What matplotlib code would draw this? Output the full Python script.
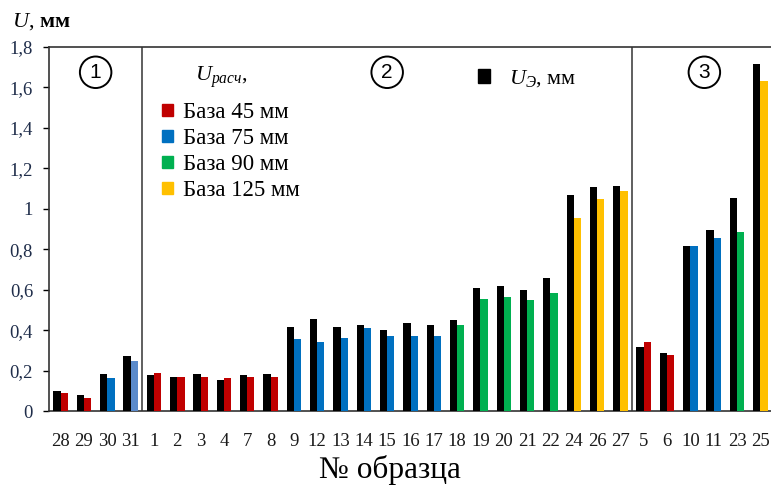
import matplotlib
matplotlib.use("Agg")
import matplotlib.pyplot as plt
from matplotlib.patches import Patch

plt.rcParams['font.family'] = ['Liberation Serif', 'DejaVu Serif']
plt.rcParams['mathtext.fontset'] = 'custom'
plt.rcParams['mathtext.rm'] = 'Liberation Serif'
plt.rcParams['mathtext.it'] = 'Liberation Serif:italic'
plt.rcParams['mathtext.bf'] = 'Liberation Serif:bold'

# sample numbers in plotting order, grouped as 1 | 2 | 3
samples = ['28', '29', '30', '31', '1', '2', '3', '4', '7', '8', '9', '12', '13', '14',
           '15', '16', '17', '18', '19', '20', '21', '22', '24', '26', '27',
           '5', '6', '10', '11', '23', '25']
# measured deflection U_э, mm
u_exp = [0.100, 0.078, 0.185, 0.270, 0.177, 0.170, 0.185, 0.154, 0.177, 0.183,
         0.415, 0.455, 0.415, 0.426, 0.400, 0.433, 0.425, 0.448, 0.608, 0.616,
         0.600, 0.656, 1.069, 1.107, 1.115,
         0.316, 0.286, 0.816, 0.894, 1.053, 1.715]
# calculated deflection U_расч, mm
u_calc = [0.088, 0.063, 0.162, 0.246, 0.187, 0.170, 0.170, 0.162, 0.170, 0.170,
          0.355, 0.340, 0.363, 0.408, 0.372, 0.372, 0.372, 0.425, 0.555, 0.564,
          0.549, 0.585, 0.955, 1.048, 1.086,
          0.340, 0.279, 0.816, 0.854, 0.886, 1.633]
# measuring base, mm
base = [45, 45, 75, 75, 45, 45, 45, 45, 45, 45,
        75, 75, 75, 75, 75, 75, 75, 90, 90, 90,
        90, 90, 125, 125, 125,
        45, 45, 75, 75, 90, 125]

base_colors = {45: '#c00000', 75: '#0070c0', 90: '#00b050', 125: '#ffc000'}
color_override = {'31': '#5a8acb'}
group_edges = [3.5, 24.5]
group_marks = [('1', 1.5), ('2', 14.0), ('3', 27.6)]

fig = plt.figure(figsize=(7.71, 4.86), dpi=100)
ax = fig.add_axes([49 / 771, 1 - 411 / 486, 723 / 771, 364 / 486])

x = list(range(len(samples)))
w = 0.31
calc_colors = [color_override.get(s, base_colors[b]) for s, b in zip(samples, base)]
ax.bar([i - w / 2 for i in x], u_exp, width=w, color='black', zorder=3)
ax.bar([i + w / 2 for i in x], u_calc, width=w, color=calc_colors, zorder=3)

for e in group_edges:
    ax.axvline(e, color='#444444', lw=1.2, zorder=2)

for label, xpos in group_marks:
    ax.text(xpos, 1.675, label, ha='center', va='center', fontsize=15,
            family='Liberation Sans',
            bbox=dict(boxstyle='circle,pad=0.3', fc='white', ec='black', lw=1.4))

ax.set_xlim(-0.5, len(samples) - 0.5)
ax.set_ylim(0, 1.8)
ax.set_yticks([0, 0.2, 0.4, 0.6, 0.8, 1.0, 1.2, 1.4, 1.6, 1.8])
ax.set_yticklabels(['0', '0,2', '0,4', '0,6', '0,8', '1', '1,2', '1,4', '1,6', '1,8'])
ax.set_xticks(x)
ax.set_xticklabels(samples)
ax.tick_params(axis='x', length=0, pad=16, labelsize=13.5, labelcolor='#1a1a1a')
ax.tick_params(axis='y', length=4, width=1, direction='out', pad=7.5,
               labelsize=13.5, labelcolor='#1f2d4a')
ax.spines['right'].set_visible(False)
for side in ['left', 'top', 'bottom']:
    ax.spines[side].set_linewidth(1.2)
    ax.spines[side].set_color('#333333')

ax.set_xlabel('№ образца', fontsize=22.5)
ax.xaxis.set_label_coords(0.472, -0.12)
fig.text(12 / 771, 1 - 22 / 486, r'$U$, $\mathbf{мм}$', fontsize=16, va='center')

# legend for calculated values
fig.text(221 / 771, 1 - 77 / 486, r'$U_{расч}$,', fontsize=16, ha='center', va='center')
calc_handles = [Patch(color=base_colors[b]) for b in [45, 75, 90, 125]]
leg1 = ax.legend(calc_handles, ['База 45 мм', 'База 75 мм', 'База 90 мм', 'База 125 мм'],
                 fontsize=16.5, frameon=False,
                 loc='upper left', bbox_to_anchor=(146 / 771, 1 - 86 / 486),
                 bbox_transform=fig.transFigure, handlelength=0.48, handleheight=0.48,
                 handletextpad=0.45, labelspacing=0.22, borderpad=0.2)
ax.add_artist(leg1)
ax.legend([Patch(color='black')], [r'$U_{Э}$, мм'], fontsize=16, frameon=False,
          loc='upper left', bbox_to_anchor=(462 / 771, 1 - 53 / 486),
          bbox_transform=fig.transFigure, handlelength=0.55, handleheight=0.55,
          handletextpad=0.85, borderpad=0.2)

fig.savefig('out.png', dpi=100)
